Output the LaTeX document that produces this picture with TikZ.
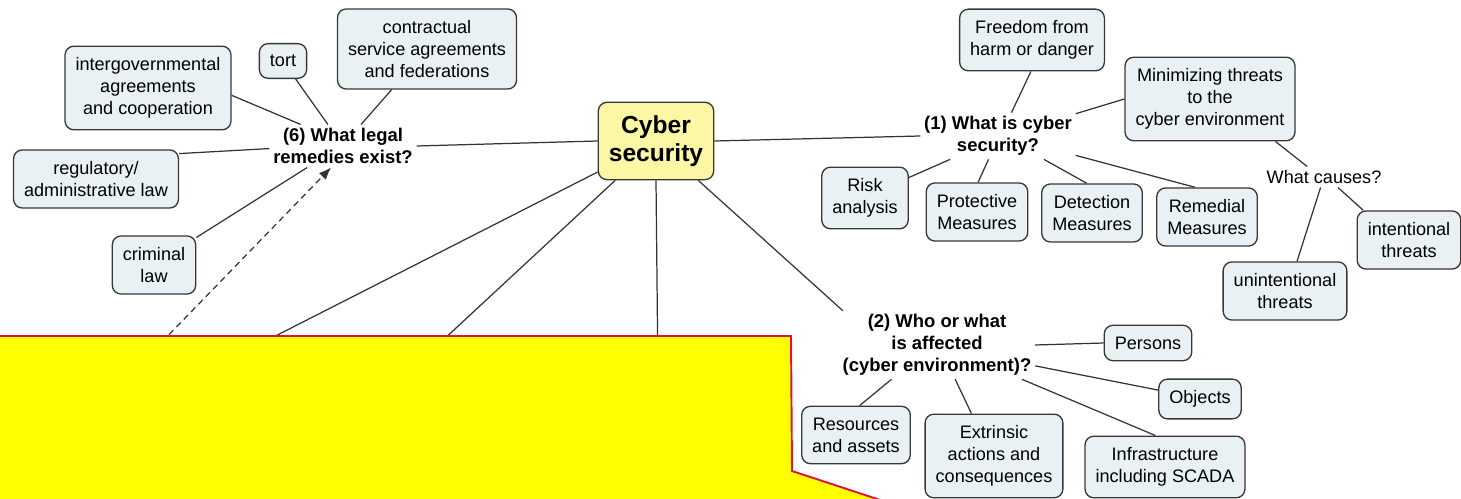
\documentclass[tikz,border=0pt]{standalone}
\usepackage{fontspec}
\setmainfont{Liberation Sans}
\usepackage{tikz}
\usetikzlibrary{arrows.meta}
\definecolor{conceptfill}{RGB}{234,241,245}
\definecolor{conceptline}{RGB}{55,55,55}
\definecolor{hubfill}{RGB}{252,247,165}
\definecolor{notefill}{RGB}{255,255,0}
\definecolor{noteline}{RGB}{220,20,60}
\tikzset{
  concept/.style={draw=conceptline, fill=conceptfill, line width=0.75pt, rounded corners=5pt,
    align=center, inner xsep=6pt, inner ysep=6.5pt, font=\fontsize{10.3}{12.5}\selectfont},
  hub/.style={concept, fill=hubfill, inner xsep=6pt, inner ysep=7.5pt, font=\fontsize{14}{16}\selectfont\bfseries},
  question/.style={align=center, inner sep=2pt, font=\fontsize{10.5}{12.4}\selectfont\bfseries},
  phrase/.style={align=center, inner sep=2pt, font=\fontsize{10.3}{12.5}\selectfont},
  link/.style={draw=black!80, line width=0.7pt},
}

\begin{document}
\begin{tikzpicture}[x=0.02cm, y=-0.02cm]
      \useasboundingbox (0,0) rectangle (1461,499);

      \node[hub] (hub) at (656,141) {Cyber\\security};

      \node[question] (legal) at (343,146) {(6) What legal\\remedies exist?};
      \node[concept] (intergov) at (148,88) {intergovernmental\\agreements\\and cooperation};
      \node[concept] (tort) at (283,61) {tort};
      \node[concept] (contract) at (427,49) {contractual\\service agreements\\and federations};
      \node[concept] (regulatory) at (96,179) {regulatory/\\administrative law};
      \node[concept] (criminal) at (154,265) {criminal\\law};

      \node[question] (whatis) at (998,136) {(1) What is cyber\\security?};
      \node[concept] (freedom) at (1032,40) {Freedom from\\harm or danger};
      \node[concept] (minimize) at (1210,99) {Minimizing threats\\to the\\cyber environment};
      \node[concept] (risk) at (865,198) {Risk\\analysis};
      \node[concept] (protective) at (977,212) {Protective\\Measures};
      \node[concept] (detection) at (1092,213) {Detection\\Measures};
      \node[concept] (remedial) at (1207,217) {Remedial\\Measures};
      \node[phrase] (causes) at (1324,177) {What causes?};
      \node[concept] (unintent) at (1285,291) {unintentional\\threats};
      \node[concept] (intent) at (1409,240) {intentional\\threats};

      \node[question] (affected) at (937,345) {(2) Who or what\\is affected\\(cyber environment)?};
      \node[concept] (persons) at (1148,343) {Persons};
      \node[concept] (objects) at (1200,399) {Objects};
      \node[concept] (resources) at (856,435) {Resources\\and assets};
      \node[concept] (extrinsic) at (994,456) {Extrinsic\\actions and\\consequences};
      \node[concept] (infra) at (1165,467) {Infrastructure\\including SCADA};

      \coordinate (hiddenA) at (189,380);
      \coordinate (hiddenB) at (400,380);
      \coordinate (hiddenC) at (658,380);
      \coordinate (hiddenD) at (125,380);

      \draw[link] (legal.153) -- (intergov.-5);
      \draw[link] (legal.125) -- (tort.-55);
      \draw[link] (legal.50) -- (contract.229);
      \draw[link] (legal.182) -- (regulatory.17);
      \draw[link] (legal.211) -- (criminal.33);
      \draw[link] (legal.east) -- (hub.west);

      \draw[link] (hub.east) -- (whatis.west);
      \draw[link] (hub.-43) -- (affected.160);
      \draw[link] (hub.208) -- (hiddenA);
      \draw[link] (hub.224) -- (hiddenB);
      \draw[link] (hub.south) -- (hiddenC);
      \draw[link, dash pattern=on 3.5pt off 2.5pt, -{Latex[length=7pt,width=5.5pt]}] (hiddenD) -- (legal.241);

      \draw[link] (whatis.60) -- (freedom.268);
      \draw[link] (whatis.16) -- (minimize.west);
      \draw[link] (whatis.206) -- (risk.25);
      \draw[link] (whatis.248) -- (protective.88);
      \draw[link] (whatis.-27) -- (detection.100);
      \draw[link] (whatis.-14) -- (remedial.112);
      \draw[link] (minimize.-33) -- (causes.148);
      \draw[link] (causes.252) -- (unintent.68);
      \draw[link] (causes.-37) -- (intent.147);

      \draw[link] (affected.east) -- (persons.west);
      \draw[link] (affected.-12) -- (objects.168);
      \draw[link] (affected.-22) -- (infra.107);
      \draw[link] (affected.217) -- (resources.83);
      \draw[link] (affected.298) -- (extrinsic.118);

      \begin{scope}
        \clip (0,0) rectangle (1461,499);
        \draw[fill=notefill, draw=noteline, line width=1.1pt]
          (-10,336) -- (791,336) -- (792,471) -- (941,520) -- (-10,520) -- cycle;
      \end{scope}
\end{tikzpicture}
\end{document}
